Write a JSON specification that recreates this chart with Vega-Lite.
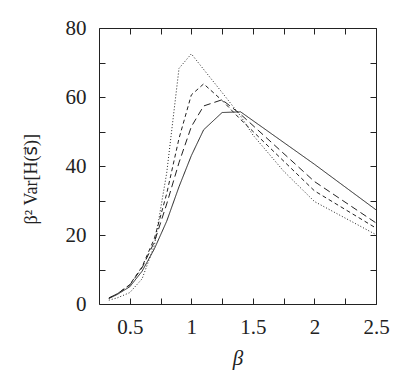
{
  "$schema": "https://vega.github.io/schema/vega-lite/v6.json",
  "width": 277,
  "height": 276,
  "autosize": "none",
  "padding": {"left": 99, "top": 28, "right": 40, "bottom": 84},
  "background": "white",
  "config": {
    "view": {"stroke": "#222", "strokeWidth": 1},
    "axis": {
      "labelFont": "Liberation Serif",
      "titleFont": "Liberation Serif",
      "labelFontSize": 21,
      "titleFontSize": 21,
      "titleFontWeight": "normal",
      "labelColor": "#222",
      "titleColor": "#222",
      "tickColor": "#222",
      "tickSize": 6,
      "tickWidth": 1,
      "domain": false,
      "grid": false,
      "offset": -6
    }
  },
  "data": {
    "values": [
      {"b": 0.33, "v": 1.6, "s": "a"}, {"b": 0.4, "v": 2.8, "s": "a"}, {"b": 0.5, "v": 5.0, "s": "a"}, {"b": 0.6, "v": 9.5, "s": "a"}, {"b": 0.7, "v": 16.0, "s": "a"}, {"b": 0.8, "v": 24.0, "s": "a"}, {"b": 0.9, "v": 34.0, "s": "a"}, {"b": 1.0, "v": 43.0, "s": "a"}, {"b": 1.1, "v": 50.5, "s": "a"}, {"b": 1.25, "v": 55.5, "s": "a"}, {"b": 1.4, "v": 55.7, "s": "a"}, {"b": 2.0, "v": 40.5, "s": "a"}, {"b": 2.5, "v": 27.3, "s": "a"},
      {"b": 0.33, "v": 1.7, "s": "b"}, {"b": 0.4, "v": 3.0, "s": "b"}, {"b": 0.5, "v": 5.5, "s": "b"}, {"b": 0.6, "v": 10.5, "s": "b"}, {"b": 0.7, "v": 18.0, "s": "b"}, {"b": 0.8, "v": 29.0, "s": "b"}, {"b": 0.9, "v": 41.0, "s": "b"}, {"b": 1.0, "v": 51.4, "s": "b"}, {"b": 1.1, "v": 57.4, "s": "b"}, {"b": 1.25, "v": 59.2, "s": "b"}, {"b": 1.4, "v": 55.0, "s": "b"}, {"b": 2.0, "v": 35.5, "s": "b"}, {"b": 2.5, "v": 23.5, "s": "b"},
      {"b": 0.33, "v": 1.7, "s": "c"}, {"b": 0.4, "v": 3.0, "s": "c"}, {"b": 0.5, "v": 5.6, "s": "c"}, {"b": 0.6, "v": 10.8, "s": "c"}, {"b": 0.7, "v": 19.0, "s": "c"}, {"b": 0.8, "v": 32.0, "s": "c"}, {"b": 0.9, "v": 48.0, "s": "c"}, {"b": 1.0, "v": 60.6, "s": "c"}, {"b": 1.1, "v": 63.8, "s": "c"}, {"b": 1.25, "v": 59.0, "s": "c"}, {"b": 1.4, "v": 53.5, "s": "c"}, {"b": 2.0, "v": 32.8, "s": "c"}, {"b": 2.5, "v": 22.0, "s": "c"},
      {"b": 0.33, "v": 1.1, "s": "d"}, {"b": 0.4, "v": 1.8, "s": "d"}, {"b": 0.5, "v": 3.3, "s": "d"}, {"b": 0.6, "v": 7.3, "s": "d"}, {"b": 0.7, "v": 17.0, "s": "d"}, {"b": 0.8, "v": 38.0, "s": "d"}, {"b": 0.9, "v": 68.3, "s": "d"}, {"b": 1.0, "v": 72.5, "s": "d"}, {"b": 1.1, "v": 68.0, "s": "d"}, {"b": 1.25, "v": 61.3, "s": "d"}, {"b": 1.4, "v": 54.5, "s": "d"}, {"b": 1.5, "v": 49.0, "s": "d"}, {"b": 1.75, "v": 38.5, "s": "d"}, {"b": 2.0, "v": 29.7, "s": "d"}, {"b": 2.5, "v": 20.1, "s": "d"}
    ]
  },
  "layer": [
    {
      "mark": {"type": "line", "strokeWidth": 1, "color": "#222", "clip": true},
      "encoding": {
        "x": {
          "field": "b", "type": "quantitative",
          "scale": {"domain": [0.25, 2.5], "nice": false, "zero": false},
          "axis": {
            "orient": "bottom",
            "values": [0.5, 0.75, 1, 1.25, 1.5, 1.75, 2, 2.25, 2.5],
            "labelExpr": "datum.value % 0.5 == 0 ? format(datum.value, '~g') : ''",
            "labelPadding": 12,
            "labelFlush": false,
            "labelOverlap": false,
            "title": "β",
            "titleFontStyle": "italic",
            "titlePadding": 10
          }
        },
        "y": {
          "field": "v", "type": "quantitative",
          "scale": {"domain": [0, 80], "nice": false},
          "axis": {
            "orient": "left",
            "values": [0, 10, 20, 30, 40, 50, 60, 70, 80],
            "labelExpr": "datum.value % 20 == 0 ? format(datum.value, 'd') : ''",
            "labelPadding": 13,
            "labelFlush": false,
            "labelOverlap": false,
            "title": "β² Var[H(s⃗)]",
            "titleFont": "Liberation Serif, DejaVu Sans",
            "titleFontSize": 18,
            "titlePadding": 25,
            "titleAlign": "left",
            "titleY": 196
          }
        },
        "strokeDash": {
          "field": "s", "type": "nominal",
          "scale": {"domain": ["a", "b", "c", "d"], "range": [[1, 0], [7, 4], [4, 3], [1, 2]]},
          "legend": null
        },
        "order": {"field": "b", "type": "quantitative"}
      }
    },
    {
      "mark": {"type": "point", "opacity": 0},
      "encoding": {
        "x": {
          "field": "b", "type": "quantitative",
          "axis": {
            "orient": "top",
            "values": [0.5, 0.75, 1, 1.25, 1.5, 1.75, 2, 2.25, 2.5],
            "labels": false,
            "title": null
          }
        },
        "y": {
          "field": "v", "type": "quantitative",
          "axis": {
            "orient": "right",
            "values": [0, 10, 20, 30, 40, 50, 60, 70, 80],
            "labels": false,
            "title": null
          }
        }
      }
    }
  ],
  "resolve": {"axis": {"x": "independent", "y": "independent"}}
}
